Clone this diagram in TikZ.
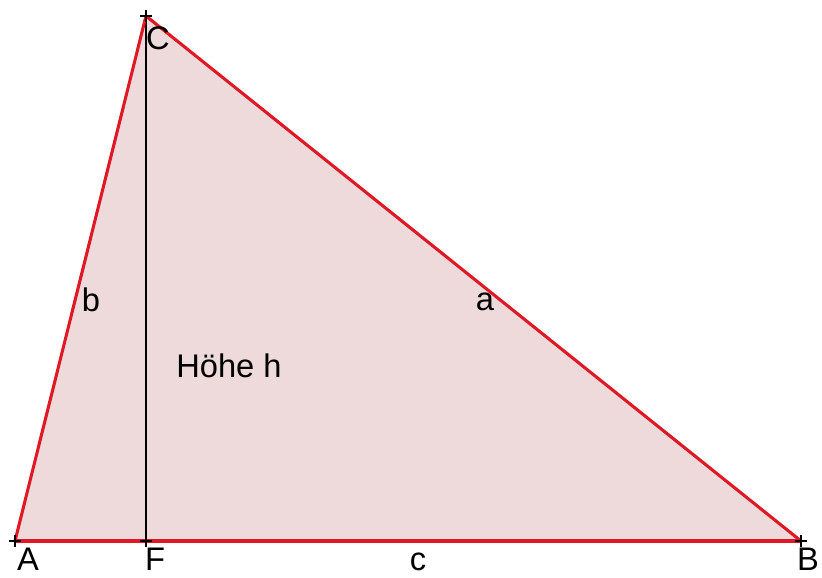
\documentclass[tikz,border=0pt]{standalone}
\usepackage{fontspec}
\setmainfont{Liberation Sans}
\begin{document}
\begin{tikzpicture}[x=0.75pt,y=-0.75pt,
  edge/.style={draw=linered,line width=2.3pt,line cap=round},
  alt/.style={draw=black,line width=1.1pt},
  lbl/.style={font=\fontsize{24.5}{28}\selectfont,inner sep=0pt,text=black},
  crossmark/.style={draw=black,line width=1.3pt}]
\definecolor{linered}{RGB}{222,24,36}
\definecolor{fillpink}{RGB}{238,218,218}
\useasboundingbox (0,0) rectangle (822,578);
\fill[white] (0,0) rectangle (822,578);
\coordinate (A) at (15,541);
\coordinate (B) at (801,541);
\coordinate (C) at (146,16);
\coordinate (F) at (146,541);
\fill[fillpink] (A) -- (B) -- (C) -- cycle;
\draw[alt] (C) -- (F);
\draw[edge] (A) -- (B);
\draw[edge] (B) -- (C);
\draw[edge] (C) -- (A);
\foreach \p in {A,B,C,F}{
  \draw[crossmark] ([xshift=-4.5pt]\p) -- ([xshift=4.5pt]\p);
  \draw[crossmark] ([yshift=-4.5pt]\p) -- ([yshift=4.5pt]\p);
}
\node[lbl] (lA) at (28,559) {A};
\node[lbl] (lF) at (155,559) {F};
\node[lbl] (lB) at (808,559) {B};
\node[lbl] (lC) at (158,38) {C};
\node[lbl] (lb) at (91,300) {b};
\node[lbl] (la) at (485,302) {a};
\node[lbl] (lc) at (418,562) {c};
\node[lbl] (lh) at (229,366) {Höhe h};
\end{tikzpicture}
\end{document}
